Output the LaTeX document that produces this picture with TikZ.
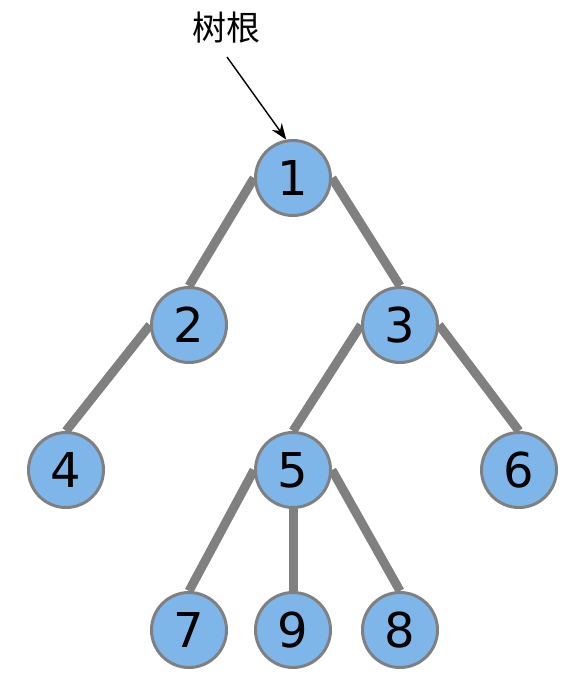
\documentclass[tikz,border=0pt]{standalone}
\usepackage{fontspec}
\setmainfont{DejaVu Sans}
\newfontfamily\cjk{Noto Sans CJK SC}
\usetikzlibrary{arrows.meta,backgrounds}

\definecolor{nodeblue}{HTML}{7EB6EA}
\definecolor{edgegray}{HTML}{808080}

\begin{document}
\begin{tikzpicture}[x=0.5pt, y=-0.5pt,
    vertex/.style={circle, draw=edgegray, line width=1.5pt, fill=nodeblue,
        minimum size=37.5pt, inner sep=0pt, font=\fontsize{24}{24}\selectfont},
    branch/.style={draw=edgegray, line width=4.5pt}]
            \useasboundingbox (0,0) rectangle (586,694);
            % vertices
            \node[vertex](n1)at(293,178){1};
            \node[vertex](n2)at(189,325){2};
            \node[vertex](n3)at(400,325){3};
            \node[vertex](n4)at(66,470){4};
            \node[vertex](n5)at(293,470){5};
            \node[vertex](n6)at(519,470){6};
            \node[vertex](n7)at(189,630){7};
            \node[vertex](n9)at(293,630){9};
            \node[vertex](n8)at(400,630){8};
            % root label
            \node[font=\cjk\fontsize{17}{17}\selectfont](rootlabel)at(226,28){树根};
            \coordinate(tail)at(227,57);
            \path[draw, line width=0.7pt, -{Stealth[length=8pt,width=6pt]}](tail)to(n1.100);
            % branches
            \begin{scope}[on background layer]
                \path[branch](n1.west)to(n2.north);
                \path[branch](n1.east)to(n3.north);
                \path[branch](n2.west)to(n4.north);
                \path[branch](n3.west)to(n5.north);
                \path[branch](n3.east)to(n6.north);
                \path[branch](n5.west)to(n7.north);
                \path[branch](n5.south)to(n9.north);
                \path[branch](n5.east)to(n8.north);
            \end{scope}
        \end{tikzpicture}
\end{document}
